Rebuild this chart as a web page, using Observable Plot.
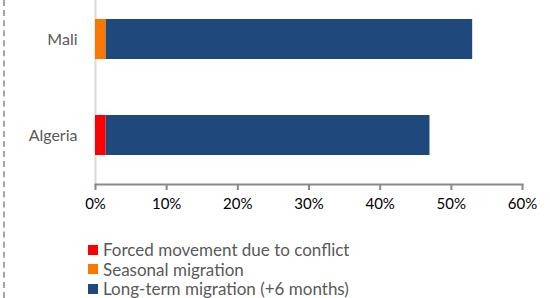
<!DOCTYPE html>
<html>
<head>
<meta charset="utf-8">
<script src="https://cdn.jsdelivr.net/npm/d3@7"></script>
<script src="https://cdn.jsdelivr.net/npm/@observablehq/plot@0.6"></script>
<style>
  html, body { margin: 0; padding: 0; background: #fff; }
  #wrap { position: relative; width: 550px; height: 298px; overflow: hidden; font-family: Lato, "Open Sans", sans-serif; }
  #dash { position: absolute; left: 3px; top: 0; height: 298px; border-left: 2px dashed #a6a6a6; }
  #chart { position: absolute; left: 0; top: 0; }
  #legend { position: absolute; left: 88px; top: 240px; font-size: 17px; color: #595959; line-height: 19.5px; }
  .item { display: flex; align-items: center; white-space: nowrap; }
  .sw { width: 10px; height: 10px; margin-right: 5px; display: inline-block; }
</style>
</head>
<body>
<div id="wrap">
  <div id="dash"></div>
  <div id="chart"></div>
  <div id="legend"></div>
</div>
<script>
const countries = ["Mali", "Algeria"];
const seriesNames = ["Forced movement due to conflict", "Seasonal migration", "Long-term migration (+6 months)"];
const seriesColors = ["#ff0000", "#fa7800", "#1f497d"];
const forced = [0, 1.5];
const seasonal = [1.5, 0];
const longTerm = [51.5, 45.5];
const xTicks = [0, 10, 20, 30, 40, 50, 60];

const seriesValues = [forced, seasonal, longTerm];
const data = [];
seriesNames.forEach((s, si) => {
  countries.forEach((c, ci) => {
    data.push({country: c, series: s, value: seriesValues[si][ci]});
  });
});

const chart = Plot.plot({
  width: 550,
  height: 220,
  marginLeft: 95,
  marginRight: 28,
  marginTop: 0,
  marginBottom: 36,
  style: {fontFamily: "Lato, 'Open Sans', sans-serif", fontSize: "15px", background: "transparent"},
  x: {domain: [0, 60], ticks: xTicks, label: null},
  y: {domain: countries, range: [0, 173], paddingInner: 0.588, paddingOuter: 0.186, label: null, axis: null},
  color: {domain: seriesNames, range: seriesColors},
  marks: [
    Plot.ruleX([0], {stroke: "#d9d9d9", strokeWidth: 2}),
    Plot.barX(data, Plot.stackX({x: "value", y: "country", fill: "series", order: seriesNames})),
    Plot.frame({anchor: "bottom", stroke: "#898989", strokeWidth: 2}),
    Plot.axisX({ticks: xTicks, tickSize: 6, stroke: "#898989", strokeWidth: 2, tickPadding: 8, tickFormat: d => d + "%", fill: "#000", fontSize: 15, label: null}),
    Plot.axisY({tickSize: 0, tickPadding: 18, fill: "#595959", fontSize: 16, label: null})
  ]
});
document.getElementById("chart").appendChild(chart);

const legend = document.getElementById("legend");
seriesNames.forEach((s, i) => {
  const it = document.createElement("div");
  it.className = "item";
  const sw = document.createElement("span");
  sw.className = "sw";
  sw.style.background = seriesColors[i];
  const t = document.createElement("span");
  t.textContent = s;
  it.appendChild(sw);
  it.appendChild(t);
  legend.appendChild(it);
});
</script>
</body>
</html>
